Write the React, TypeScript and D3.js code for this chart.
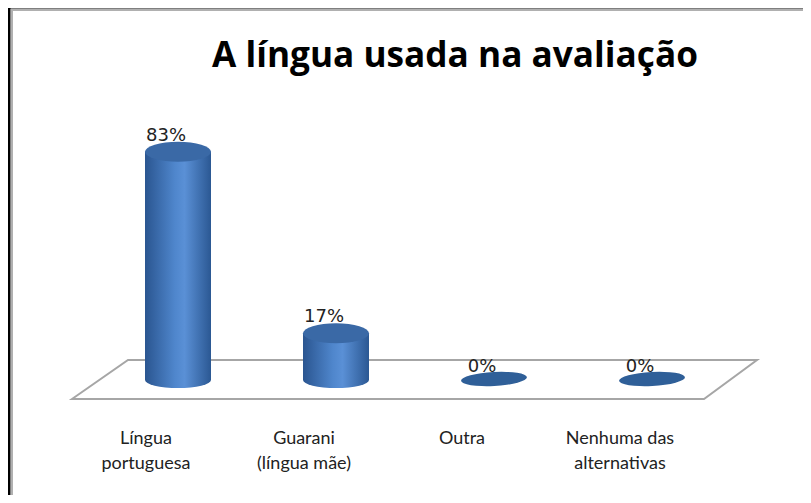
import { useEffect, useRef } from 'react';
import * as d3 from 'd3';

const categories = ['Língua portuguesa', 'Guarani (língua mãe)', 'Outra', 'Nenhuma das alternativas'];
const labelLines = [['Língua', 'portuguesa'], ['Guarani', '(língua mãe)'], ['Outra'], ['Nenhuma das', 'alternativas']];
const values = [83, 17, 0, 0];
const valueLabels = ['83%', '17%', '0%', '0%'];

const W = 811;
const H = 503;

const App = () => {
  const svgRef = useRef<SVGSVGElement>(null);

  useEffect(() => {
    if (!svgRef.current) return;
    const svg = d3.select(svgRef.current);
    svg.selectAll('*').remove();

    const x = d3.scalePoint<string>().domain(categories).range([178, 652]);
    const y = d3.scaleLinear().domain([0, 100]).range([380, 105]);
    const labelShift = -32;
    const rx = 33;

    const defs = svg.append('defs');
    const grad = defs.append('linearGradient').attr('id', 'cyl').attr('x1', 0).attr('x2', 1).attr('y1', 0).attr('y2', 0);
    grad.append('stop').attr('offset', '0%').attr('stop-color', '#2a5590');
    grad.append('stop').attr('offset', '45%').attr('stop-color', '#4f86cc');
    grad.append('stop').attr('offset', '60%').attr('stop-color', '#5a90d6');
    grad.append('stop').attr('offset', '100%').attr('stop-color', '#2b5893');

    // frame
    svg.append('rect').attr('width', W).attr('height', H).attr('fill', '#fff');
    svg.append('path').attr('d', `M9,${H} V7 H${W}`).attr('fill', 'none').attr('stroke', '#000').attr('stroke-width', 3);
    svg.append('path').attr('d', `M12,${H} V10 H${W}`).attr('fill', 'none').attr('stroke', '#b0b0b0').attr('stroke-width', 2);

    // title, sized to the reference width
    const title = svg.append('text')
      .attr('x', 455).attr('y', 67)
      .attr('text-anchor', 'middle')
      .attr('font-family', '"Open Sans", Lato, sans-serif')
      .attr('font-weight', 'bold')
      .attr('font-size', 33)
      .attr('fill', '#000')
      .text('A língua usada na avaliação');
    const tw = (title.node() as SVGTextElement).getComputedTextLength();
    if (tw > 0) title.attr('font-size', Math.min(40, 33 * 486 / tw));

    // floor
    svg.append('path')
      .attr('d', 'M72,399 L128,360 L757,360 L704,399 Z')
      .attr('fill', '#fff')
      .attr('stroke', '#a6a6a6')
      .attr('stroke-width', 2);

    const g = svg.append('g');
    categories.forEach((c, i) => {
      const cx = x(c)!;
      const base = y(0);
      const top = y(values[i]);
      if (values[i] > 0) {
        g.append('path')
          .attr('d', `M${cx - rx},${top} L${cx - rx},${base} A${rx},8 0 0 0 ${cx + rx},${base} L${cx + rx},${top} Z`)
          .attr('fill', 'url(#cyl)');
        g.append('ellipse')
          .attr('cx', cx).attr('cy', top).attr('rx', rx).attr('ry', 10)
          .attr('fill', '#3a69a6');
      } else {
        g.append('ellipse')
          .attr('cx', cx).attr('cy', base - 1).attr('rx', rx).attr('ry', 7)
          .attr('transform', `rotate(-3 ${cx} ${base - 1})`)
          .attr('fill', '#2f5f98');
      }
      g.append('text')
        .attr('x', cx - 12).attr('y', values[i] > 0 ? top - 11 : base - 8)
        .attr('text-anchor', 'middle')
        .attr('font-family', '"DejaVu Sans", sans-serif')
        .attr('font-size', 18)
        .attr('fill', '#222')
        .text(valueLabels[i]);

      const t = svg.append('text')
        .attr('text-anchor', 'middle')
        .attr('font-family', 'Lato, "Open Sans", sans-serif')
        .attr('font-size', 18)
        .attr('fill', '#222');
      labelLines[i].forEach((ln, j) => {
        t.append('tspan').attr('x', cx + labelShift).attr('y', 444 + j * 25).text(ln);
      });
    });
  }, []);

  return <svg ref={svgRef} width={W} height={H} style={{ display: 'block', margin: -8 }} />;
};

export default App;
